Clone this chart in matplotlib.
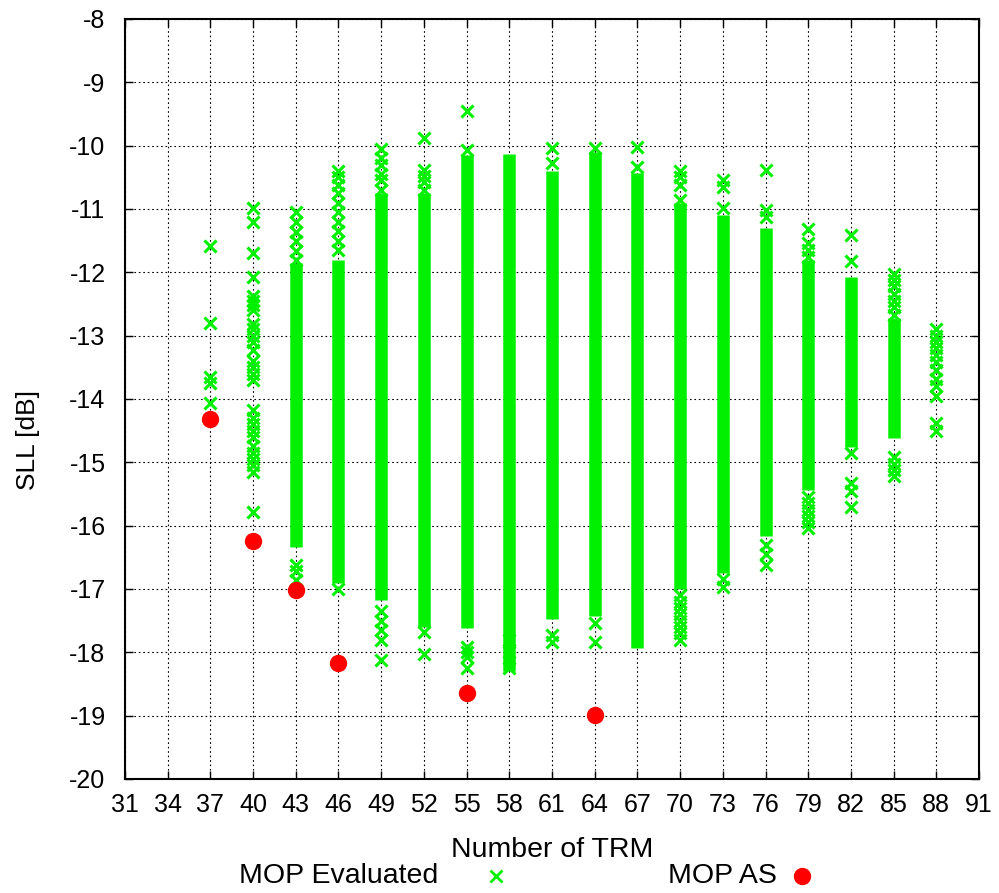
import matplotlib
matplotlib.use('Agg')
import matplotlib.pyplot as plt
from matplotlib.lines import Line2D

plt.rcParams['font.family'] = ['Liberation Sans', 'DejaVu Sans']
plt.rcParams['axes.unicode_minus'] = False

# dense parts of each column (evaluated solutions drawn so close they merge)
band_cols = [43, 46, 49, 52, 55, 58, 61, 64, 67, 70, 73, 76, 79, 82, 85]
band_lo = [-16.33, -16.9, -17.17, -17.6, -17.62, -18.3, -17.48, -17.43, -17.93,
           -17.0, -16.75, -16.17, -15.44, -14.76, -14.62]
band_hi = [-11.85, -11.8, -10.75, -10.75, -10.15, -10.13, -10.4, -10.1, -10.43,
           -10.91, -11.1, -11.3, -11.8, -12.07, -12.72]

# isolated evaluated points per column
eval_cols = [37, 40, 43, 46, 49, 52, 55, 58, 61, 64, 67, 70, 73, 76, 79, 82, 85, 88]
eval_pts = [
    [-11.58, -12.8, -13.65, -13.75, -14.06],
    [-10.98, -11.2, -11.7, -12.07, -12.38, -12.45, -12.52, -12.6, -12.82, -12.9,
     -13.0, -13.1, -13.22, -13.4, -13.5, -13.6, -13.7, -14.17, -14.3, -14.4,
     -14.5, -14.6, -14.75, -14.85, -14.95, -15.05, -15.15, -15.78],
    [-11.05, -11.2, -11.36, -11.5, -11.67, -11.81, -16.62, -16.72, -16.86],
    [-10.4, -10.5, -10.62, -10.75, -10.9, -11.05, -11.2, -11.35, -11.5, -11.65, -17.0],
    [-10.05, -10.2, -10.3, -10.45, -10.55, -10.7, -17.35, -17.5, -17.65, -17.8, -18.12],
    [-9.88, -10.38, -10.48, -10.58, -10.7, -17.68, -18.03],
    [-9.46, -10.07, -17.92, -18.0, -18.08, -18.25],
    [-17.8, -18.0, -18.25],
    [-10.03, -10.28, -17.72, -17.83],
    [-10.03, -17.53, -17.83],
    [-10.02, -10.33],
    [-10.4, -10.5, -10.62, -10.86, -17.1, -17.2, -17.3, -17.4, -17.5, -17.6, -17.7, -17.8],
    [-10.55, -10.66, -10.98, -16.85, -16.97],
    [-10.39, -11.02, -11.12, -16.3, -16.45, -16.62],
    [-11.31, -11.54, -11.65, -11.76, -15.55, -15.65, -15.75, -15.85, -15.95, -16.04],
    [-11.41, -11.82, -14.85, -15.33, -15.45, -15.7],
    [-12.02, -12.12, -12.22, -12.35, -12.45, -12.55, -12.68, -14.92, -15.02, -15.12, -15.22],
    [-12.9, -13.0, -13.1, -13.2, -13.3, -13.42, -13.55, -13.68, -13.8, -13.95, -14.38, -14.5],
]

# MOP AS solutions
as_x = [37, 40, 43, 46, 55, 64]
as_y = [-14.32, -16.24, -17.02, -18.17, -18.64, -18.99]

green = '#00f000'

fig = plt.figure(figsize=(9.99, 8.93), dpi=100)
ax = fig.add_axes([0.1251, 0.1277, 0.8549, 0.8511])

bands = ax.vlines(band_cols, band_lo, band_hi, color=green, linewidth=9, zorder=3)
bands.set_capstyle('butt')

ex = []
ey = []
for c, pts in zip(eval_cols, eval_pts):
    for p in pts:
        ex.append(c)
        ey.append(p)
ax.plot(ex, ey, 'x', color=green, ms=9, mew=2.2, zorder=3)
ax.plot(as_x, as_y, 'o', color='#ff0000', mec='#ff0000', ms=11.5, zorder=4)

ax.set_xlim(31, 91)
ax.set_ylim(-20, -8)
ax.set_xticks(range(31, 92, 3))
ax.set_yticks(range(-20, -7))
ax.tick_params(direction='in', length=6, width=1, top=True, right=True, labelsize=18)
ax.tick_params(axis='y', pad=14)
ax.tick_params(axis='x', pad=10)
ax.grid(True, color='black', linestyle=(0, (1.5, 2.5)), linewidth=0.8)
ax.set_axisbelow(True)
for s in ax.spines.values():
    s.set_linewidth(1.5)

ax.set_xlabel('Number of TRM', fontsize=20.5, va='center')
ax.xaxis.set_label_coords(0.5, -0.0934)
ax.set_ylabel('SLL [dB]', fontsize=19, va='center')
ax.yaxis.set_label_coords(-0.1136, 0.446)

# key below the plot
ky = 1 - 876 / 893
fig.text(438 / 999, ky, 'MOP Evaluated', ha='right', va='center', fontsize=20.5)
fig.add_artist(Line2D([496 / 999], [ky], transform=fig.transFigure, marker='x',
                      color=green, ms=8, mew=2, ls='none'))
fig.text(777 / 999, ky, 'MOP AS', ha='right', va='center', fontsize=20.5)
fig.add_artist(Line2D([802 / 999], [ky], transform=fig.transFigure, marker='o',
                      color='#ff0000', ms=11.5, ls='none'))

fig.savefig('out.png', dpi=100)
